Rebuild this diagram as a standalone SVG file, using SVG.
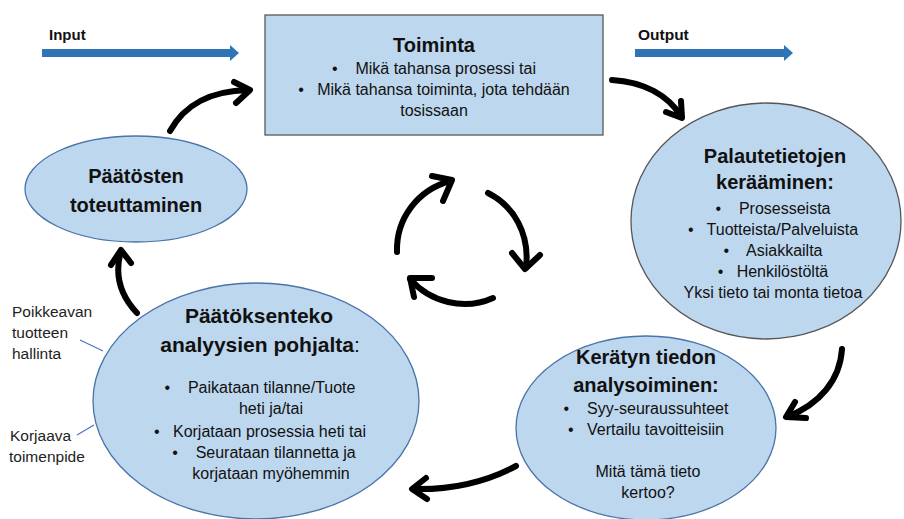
<svg xmlns="http://www.w3.org/2000/svg" width="904" height="519" viewBox="0 0 904 519">
<defs>
<style>
.node{fill:#BDD7EE;stroke:#4A73A8;stroke-width:1.3}
.t{font-family:"Liberation Sans",Arial,sans-serif;fill:#111;text-anchor:middle;white-space:pre}
.h{font-size:20px;font-weight:bold}
.b{font-size:16px}
.s{font-family:"Liberation Sans",Arial,sans-serif;font-size:15.5px;fill:#222}
.lbl{font-family:"Liberation Sans",Arial,sans-serif;font-size:15px;font-weight:bold;fill:#111}
.arc{fill:none;stroke:#000;stroke-width:6;stroke-linecap:round;stroke-linejoin:round}
.blue{fill:#2E75B6}
.lead{stroke:#4A73C8;stroke-width:1.2;fill:none}
</style>
</defs>
<rect width="904" height="519" fill="#fff"/>

<g id="input">
<text class="lbl" x="49" y="40">Input</text>
<polygon class="blue" points="42,49 230,49 230,45 239,53 230,61 230,57 42,57"/>
</g>
<g id="output">
<text class="lbl" x="638" y="40" style="font-size:15.5px">Output</text>
<polygon class="blue" points="635,49 784,49 784,45 793,53 784,61 784,57 635,57"/>
</g>

<g id="toiminta">
<rect x="265" y="15" width="338" height="120" fill="#BDD7EE" stroke="#595959" stroke-width="1.3"/>
<text class="t h" x="434" y="52">Toiminta</text>
<text class="t b" x="434" y="74" xml:space="preserve">•    Mikä tahansa prosessi tai</text>
<text class="t b" x="434" y="95" xml:space="preserve">•   Mikä tahansa toiminta, jota tehdään</text>
<text class="t b" x="434" y="116">tosissaan</text>
</g>

<g id="palaute">
<ellipse cx="766" cy="221" rx="135" ry="118" fill="#BDD7EE" stroke="#555" stroke-width="1.3"/>
<text class="t h" x="775" y="163">Palautetietojen</text>
<text class="t h" x="775" y="189">kerääminen:</text>
<text class="t b" x="773" y="214" xml:space="preserve">•    Prosesseista</text>
<text class="t b" x="773" y="235" xml:space="preserve">•   Tuotteista/Palveluista</text>
<text class="t b" x="773" y="256" xml:space="preserve">•    Asiakkailta</text>
<text class="t b" x="773" y="277" xml:space="preserve">•   Henkilöstöltä</text>
<text class="t b" x="773" y="298">Yksi tieto tai monta tietoa</text>
</g>

<g id="keratyn">
<ellipse class="node" cx="646" cy="428" rx="130" ry="92"/>
<text class="t h" x="646" y="364">Kerätyn tiedon</text>
<text class="t h" x="646" y="392">analysoiminen:</text>
<text class="t b" x="646" y="414" xml:space="preserve">•    Syy-seuraussuhteet</text>
<text class="t b" x="646" y="435" xml:space="preserve">•   Vertailu tavoitteisiin</text>
<text class="t b" x="648" y="477">Mitä tämä tieto</text>
<text class="t b" x="648" y="498">kertoo?</text>
</g>

<g id="paatoksenteko">
<ellipse class="node" cx="256" cy="401" rx="163" ry="118"/>
<text class="t" x="259" y="323" style="font-size:21px;font-weight:bold">Päätöksenteko</text>
<text class="t" x="260" y="352" style="font-size:21px"><tspan font-weight="bold">analyysien pohjalta</tspan>:</text>
<text class="t b" x="260" y="393" xml:space="preserve">•    Paikataan tilanne/Tuote</text>
<text class="t b" x="271" y="414">heti ja/tai</text>
<text class="t b" x="260" y="437" xml:space="preserve">•   Korjataan prosessia heti tai</text>
<text class="t b" x="264" y="458" xml:space="preserve">•    Seurataan tilannetta ja</text>
<text class="t b" x="271" y="479">korjataan myöhemmin</text>
</g>

<g id="toteuttaminen">
<ellipse class="node" cx="136" cy="189" rx="111" ry="53"/>
<text class="t h" x="136" y="183">Päätösten</text>
<text class="t h" x="136" y="212">toteuttaminen</text>
</g>

<g id="side-labels">
<text class="s" x="12" y="317">Poikkeavan</text>
<text class="s" x="12" y="338">tuotteen</text>
<text class="s" x="12" y="359">hallinta</text>
<text class="s" x="10" y="441">Korjaava</text>
<text class="s" x="9" y="462">toimenpide</text>
</g>

<g id="connectors">
<line class="lead" x1="80" y1="340" x2="103" y2="351"/>
<line class="lead" x1="77" y1="435" x2="94" y2="425"/>
<path class="arc" d="M170,131 C185,104 210,91 248,90"/>
<path class="arc" d="M234,82 L250,90 L236,103"/>
<path class="arc" d="M612,80 C645,82 668,96 681,116"/>
<path class="arc" d="M666,112 L682,118 L681,101"/>
<path class="arc" d="M842,349 C840,380 820,404 787,417"/>
<path class="arc" d="M795,402 L786,417 L806,418"/>
<path class="arc" d="M516,466 C486,482 450,490 413,489"/>
<path class="arc" d="M426,478 L412,489 L427,499"/>
<path class="arc" d="M137,313 C120,295 114,275 121,251"/>
<path class="arc" d="M111,265 L121,250 L131,263"/>
<path class="arc" d="M397,252 C396,218 418,190 450,181"/>
<path class="arc" d="M432,176 L452,180 L443,201"/>
<path class="arc" d="M488,193 C514,206 530,234 526,268"/>
<path class="arc" d="M512,253 L525,269 L540,255"/>
<path class="arc" d="M493,298 C464,311 430,302 410,279"/>
<path class="arc" d="M432,278 L410,278 L414,297"/>
</g>
</svg>
